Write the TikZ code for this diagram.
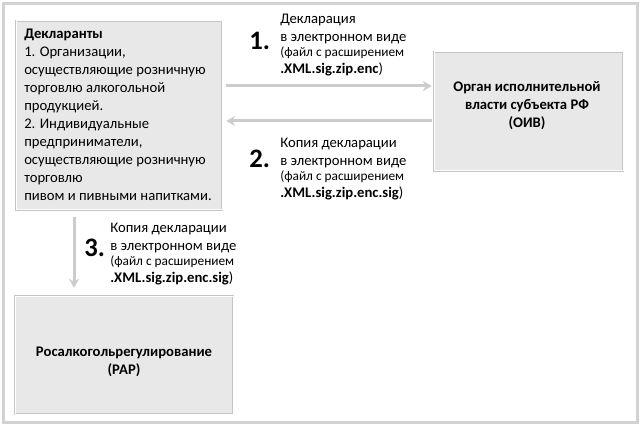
\documentclass[tikz,border=0pt]{standalone}
\usepackage{fontspec}
\setmainfont{Carlito}
\usetikzlibrary{arrows.meta}
\definecolor{boxfill}{HTML}{E8E8E8}
\definecolor{boxline}{HTML}{C4C4C4}
\definecolor{arrline}{HTML}{CCCCCC}
\definecolor{frameline}{HTML}{D2D2D2}
\begin{document}
\begin{tikzpicture}[x=0.75pt, y=-0.75pt,
	box/.style={draw=boxline, double=white, double distance=0.75pt, line width=0.5pt, fill=boxfill},
	txt/.style={inner sep=0pt, font=\fontsize{11}{13.5}\selectfont},
	num/.style={inner sep=0pt, anchor=base west, font=\fontsize{20}{20}\selectfont\bfseries},
	arr/.style={arrline, line width=2.25pt, -{Stealth[length=6.5pt, width=7.5pt, inset=2pt]}}]
		% Canvas and frame
		\useasboundingbox (0,0) rectangle (641,427);
		\draw[frameline, line width=2.25pt] (3.5,3.5) rectangle (637,422.5);
		
		% Boxes
		\node[box, minimum width=154.5pt, minimum height=141.75pt] (decl) at (119,115.5) {};
		\node[box, minimum width=141.75pt, minimum height=89.25pt] (oiv) at (528.5,111.5) {};
		\node[box, minimum width=163.5pt, minimum height=88.5pt] (rar) at (124,355) {};
		
		% Box texts
		\node[txt, anchor=north west, align=left] (decltext) at (24,28.5) {\textbf{Декларанты}\\
			1. Организации,\\
			осуществляющие розничную\\
			торговлю алкогольной\\
			продукцией.\\
			2. Индивидуальные\\
			предприниматели,\\
			осуществляющие розничную\\
			торговлю\\
			пивом и пивными напитками.};
		\node[txt, align=center, font=\fontsize{11}{13.5}\selectfont\bfseries] (oivtext) at (527,106) {Орган исполнительной\\ власти субъекта РФ\\ (ОИВ)};
		\node[txt, align=center, font=\fontsize{11}{13.5}\selectfont\bfseries] (rartext) at (124,362) {Росалкогольрегулирование\\ (РАР)};
		
		% Arrows
		\draw[arr, shorten <=3pt, shorten >=1.5pt] (decl.east |- 0,86) -- (oiv.west |- 0,86);
		\draw[arr, shorten <=1.5pt, shorten >=3pt] (oiv.west |- 0,121) -- (decl.east |- 0,121);
		\draw[arr, shorten <=5.25pt, shorten >=6pt] (decl.south -| 74,0) -- (rar.north -| 74,0);
		
		% Step labels
		\node[num] (n1) at (249,50) {1.};
		\node[txt, anchor=north west, align=left] (step1) at (280,13.5) {Декларация\\
			в электронном виде\\[-2pt]
			{\fontsize{10}{12}\selectfont (файл с расширением}\\[-0.75pt]
			\textbf{.XML.sig.zip.enc})};
		\node[num] (n2) at (249,168) {2.};
		\node[txt, anchor=north west, align=left] (step2) at (280,137.5) {Копия декларации\\
			в электронном виде\\[-2pt]
			{\fontsize{10}{12}\selectfont (файл с расширением}\\[-0.75pt]
			\textbf{.XML.sig.zip.enc.sig})};
		\node[num] (n3) at (84,257) {3.};
		\node[txt, anchor=north west, align=left] (step3) at (110,222.5) {Копия декларации\\
			в электронном виде\\[-2pt]
			{\fontsize{10}{12}\selectfont (файл с расширением}\\[-0.75pt]
			\textbf{.XML.sig.zip.enc.sig})};
\end{tikzpicture}
\end{document}
